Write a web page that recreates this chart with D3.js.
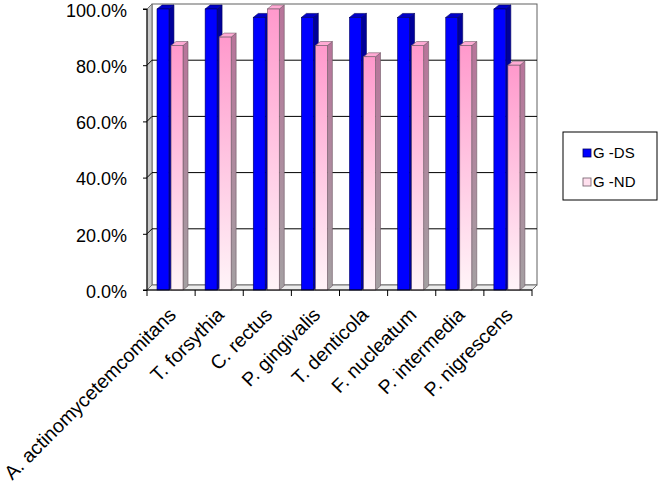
<!DOCTYPE html>
<html>
<head>
<meta charset="utf-8">
<script src="https://cdn.jsdelivr.net/npm/d3@7"></script>
<style>
  html, body { margin: 0; padding: 0; background: #fff; }
  text { font-family: "Liberation Sans", Arial, sans-serif; fill: #000; }
</style>
</head>
<body>
<svg id="chart" width="660" height="491"></svg>
<script>
const categories = ["A. actinomycetemcomitans", "T. forsythia", "C. rectus", "P. gingivalis",
                    "T. denticola", "F. nucleatum", "P. intermedia", "P. nigrescens"];
const seriesNames = ["G -DS", "G -ND"];
const gDS = [1.00, 1.00, 0.97, 0.97, 0.97, 0.97, 0.97, 1.00];
const gND = [0.87, 0.90, 1.00, 0.87, 0.83, 0.87, 0.87, 0.80];
const yTicks = [0, 0.2, 0.4, 0.6, 0.8, 1.0];

(function () {
const svg = d3.select("#chart");
const W = 660, H = 491;
svg.append("rect").attr("width", W).attr("height", H).attr("fill", "#fff");

const pLeft = 147, pRight = 532, pBottom = 290, pTop = 9;
const wallDX = 5, wallDY = 5;
const barDX = 5, barDY = 4;

const y = d3.scaleLinear().domain([0, 1]).range([pBottom, pTop]);
const x0 = d3.scaleBand().domain(categories).range([pLeft, pRight]);
const x1 = d3.scaleBand().domain(seriesNames).range([10, 36]).paddingInner(0.15);

const defs = svg.append("defs");
const gp = defs.append("linearGradient").attr("id", "pinkFront").attr("x1", 0).attr("y1", 0).attr("x2", 0).attr("y2", 1);
gp.append("stop").attr("offset", "0%").attr("stop-color", "#ff99cc");
gp.append("stop").attr("offset", "100%").attr("stop-color", "#fff4f8");
const gs = defs.append("linearGradient").attr("id", "pinkSide").attr("x1", 0).attr("y1", 0).attr("x2", 0).attr("y2", 1);
gs.append("stop").attr("offset", "0%").attr("stop-color", "#b8749a");
gs.append("stop").attr("offset", "100%").attr("stop-color", "#a4a0a2");

// back wall
svg.append("rect")
  .attr("x", pLeft + wallDX).attr("y", pTop - wallDY)
  .attr("width", pRight - pLeft).attr("height", pBottom - pTop)
  .attr("fill", "#fff").attr("stroke", "#606060").attr("stroke-width", 1);

// left side wall
svg.append("path")
  .attr("d", `M${pLeft},${pBottom} L${pLeft},${pTop} L${pLeft + wallDX},${pTop - wallDY} L${pLeft + wallDX},${pBottom - wallDY} Z`)
  .attr("fill", "#c8c8c8").attr("stroke", "#707070").attr("stroke-width", 1);

// floor
svg.append("path")
  .attr("d", `M${pLeft},${pBottom} L${pRight},${pBottom} L${pRight + wallDX},${pBottom - wallDY} L${pLeft + wallDX},${pBottom - wallDY} Z`)
  .attr("fill", "#ececec").attr("stroke", "#707070").attr("stroke-width", 1);

// gridlines
yTicks.filter(v => v > 0 && v < 1).forEach(v => {
  const yy = y(v);
  svg.append("line")
    .attr("x1", pLeft + wallDX).attr("x2", pRight + wallDX)
    .attr("y1", yy - wallDY).attr("y2", yy - wallDY)
    .attr("stroke", "#000").attr("stroke-width", 1);
  svg.append("line")
    .attr("x1", pLeft).attr("x2", pLeft + wallDX)
    .attr("y1", yy).attr("y2", yy - wallDY)
    .attr("stroke", "#000").attr("stroke-width", 1);
});

// bars
const seriesVals = [gDS, gND];
categories.forEach((c, i) => {
  seriesNames.forEach((s, j) => {
    const v = seriesVals[j][i];
    const bx = x0(c) + x1(s);
    const bw = x1.bandwidth();
    const by = y(v);
    const g = svg.append("g");
    const blue = j === 0;
    g.append("path")
      .attr("d", `M${bx + bw},${pBottom} L${bx + bw},${by} L${bx + bw + barDX},${by - barDY} L${bx + bw + barDX},${pBottom - barDY} Z`)
      .attr("fill", blue ? "#00009a" : "url(#pinkSide)")
      .attr("stroke", blue ? "#000060" : "#6e5a66").attr("stroke-width", 0.6);
    g.append("path")
      .attr("d", `M${bx},${by} L${bx + barDX},${by - barDY} L${bx + bw + barDX},${by - barDY} L${bx + bw},${by} Z`)
      .attr("fill", blue ? "#0000c8" : "#ffaad4")
      .attr("stroke", blue ? "#000060" : "#6e5a66").attr("stroke-width", 0.6);
    g.append("rect")
      .attr("x", bx).attr("y", by).attr("width", bw).attr("height", pBottom - by)
      .attr("fill", blue ? "#0000ff" : "url(#pinkFront)")
      .attr("stroke", blue ? "#000060" : "#6e5a66").attr("stroke-width", 0.6);
  });
});

// y axis
const yAxis = d3.axisLeft(y).tickValues(yTicks).tickFormat(d3.format(".1%")).tickSize(4).tickPadding(16);
const ya = svg.append("g").attr("transform", `translate(${pLeft},0)`).call(yAxis);
ya.select(".domain").attr("stroke", "#000").attr("d", `M-4,${pTop}H0V${pBottom}H-4`);
ya.selectAll(".tick line").attr("stroke", "#000");
ya.selectAll(".tick text").style("font-size", "18px").attr("dy", "0.4em")
  .attr("font-family", "Liberation Sans, Arial, sans-serif");

// x axis
const xa = svg.append("g").attr("transform", `translate(0,${pBottom})`);
xa.append("line").attr("x1", pLeft).attr("x2", pRight).attr("y1", 0).attr("y2", 0).attr("stroke", "#000");
const boundaries = categories.map(c => x0(c)).concat([pRight]);
boundaries.forEach(bx => {
  xa.append("line").attr("x1", bx).attr("x2", bx).attr("y1", 0).attr("y2", 6).attr("stroke", "#000");
});
categories.forEach(c => {
  const cx = x0(c) + x0.bandwidth() / 2;
  xa.append("text")
    .attr("transform", `translate(${cx + 6},${26}) rotate(-45)`)
    .attr("text-anchor", "end")
    .style("font-size", "19.5px")
    .text(c);
});

// legend
const lg = svg.append("g");
lg.append("rect").attr("x", 563).attr("y", 132).attr("width", 94).attr("height", 68)
  .attr("fill", "#fff").attr("stroke", "#000").attr("stroke-width", 1);
const legendFill = ["#0000ff", "#ffe0ee"];
seriesNames.forEach((s, j) => {
  const ly = 149 + j * 29;
  lg.append("rect").attr("x", 583).attr("y", ly).attr("width", 8).attr("height", 8)
    .attr("fill", legendFill[j]).attr("stroke", j === 0 ? "#000060" : "#6e5a66").attr("stroke-width", 0.8);
  lg.append("text").attr("x", 593).attr("y", ly + 8.5).style("font-size", "15px").text(s);
});
})();
</script>
</body>
</html>
